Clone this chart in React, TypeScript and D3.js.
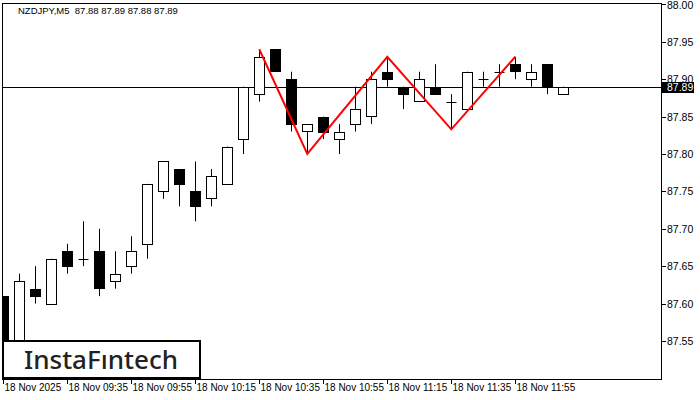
import React, { useEffect, useRef } from "react";
import * as d3 from "d3";

// NZDJPY M5 candles
const opens = [87.61, 87.5, 87.62, 87.6, 87.67, 87.66, 87.67, 87.63, 87.65, 87.68, 87.75, 87.78, 87.75, 87.74, 87.76, 87.82, 87.88, 87.94, 87.9, 87.83, 87.85, 87.82, 87.84, 87.85, 87.91, 87.89, 87.87, 87.89, 87.87, 87.86, 87.9, 87.91, 87.92, 87.9, 87.92, 87.88];
const highs = [87.61, 87.64, 87.65, 87.66, 87.68, 87.71, 87.7, 87.67, 87.69, 87.76, 87.79, 87.78, 87.79, 87.78, 87.81, 87.89, 87.94, 87.94, 87.91, 87.84, 87.85, 87.84, 87.89, 87.91, 87.93, 87.89, 87.91, 87.92, 87.88, 87.91, 87.91, 87.92, 87.93, 87.92, 87.92, 87.89];
const lows = [87.45, 87.49, 87.6, 87.6, 87.64, 87.65, 87.61, 87.62, 87.64, 87.66, 87.74, 87.73, 87.71, 87.73, 87.76, 87.8, 87.87, 87.91, 87.83, 87.8, 87.82, 87.8, 87.83, 87.84, 87.89, 87.86, 87.87, 87.88, 87.833, 87.86, 87.89, 87.89, 87.9, 87.89, 87.88, 87.88];
const closes = [87.48, 87.63, 87.61, 87.66, 87.65, 87.66, 87.62, 87.64, 87.67, 87.76, 87.79, 87.76, 87.73, 87.77, 87.81, 87.89, 87.93, 87.91, 87.84, 87.84, 87.83, 87.83, 87.86, 87.9, 87.9, 87.88, 87.9, 87.88, 87.87, 87.91, 87.9, 87.91, 87.91, 87.91, 87.89, 87.89];

// triple top pattern
const patternBars = [16, 19, 24, 28, 32];
const patternPrices = [87.94, 87.8, 87.93, 87.833, 87.93];

const priceTicks = [87.55, 87.6, 87.65, 87.7, 87.75, 87.8, 87.85, 87.9, 87.95, 88.0];
const timeTickBars = [0, 4, 8, 12, 16, 20, 24, 28, 32];
const timeTickLabels = ["18 Nov 2025", "18 Nov 09:35", "18 Nov 09:55", "18 Nov 10:15", "18 Nov 10:35", "18 Nov 10:55", "18 Nov 11:15", "18 Nov 11:35", "18 Nov 11:55"];

const lastPrice = 87.89;
const title = "NZDJPY,M5  87.88 87.89 87.88 87.89";

export default function App() {
  const svgRef = useRef<SVGSVGElement>(null);
  const width = 700;
  const height = 400;
  const left = 2;
  const right = 661;
  const top = 3;
  const bottom = 379;
  const font = "'Liberation Sans', Arial, sans-serif";

  useEffect(() => {
    const svg = d3.select(svgRef.current);
    svg.selectAll("*").remove();

    const x = d3.scaleLinear().domain([0, 35]).range([3.3, 563.3]);
    const y = d3.scaleLinear().domain([87.5, 88]).range([378.4, 4.4]);

    svg.append("rect").attr("width", width).attr("height", height).attr("fill", "#fff");

    const plot = svg.append("g");
    plot
      .append("defs")
      .append("clipPath")
      .attr("id", "plotclip")
      .append("rect")
      .attr("x", left)
      .attr("y", top)
      .attr("width", right - left)
      .attr("height", bottom - top);

    const g = plot.append("g").attr("clip-path", "url(#plotclip)");

    // current price line
    g.append("line")
      .attr("x1", left)
      .attr("x2", right)
      .attr("y1", Math.round(y(lastPrice)) + 0.5)
      .attr("y2", Math.round(y(lastPrice)) + 0.5)
      .attr("stroke", "#000")
      .attr("stroke-width", 1);

    const idx = d3.range(opens.length);
    const px = (v: number) => Math.round(v) + 0.5;

    // wicks
    g.selectAll(".wick")
      .data(idx)
      .enter()
      .append("line")
      .attr("x1", (i) => px(x(i)))
      .attr("x2", (i) => px(x(i)))
      .attr("y1", (i) => y(highs[i]))
      .attr("y2", (i) => y(lows[i]))
      .attr("stroke", "#000")
      .attr("stroke-width", 1);

    // bodies
    g.selectAll(".body")
      .data(idx.filter((i) => opens[i] !== closes[i]))
      .enter()
      .append("rect")
      .attr("x", (i) => px(x(i)) - 5)
      .attr("width", 10)
      .attr("y", (i) => Math.round(y(Math.max(opens[i], closes[i]))) + 0.5)
      .attr("height", (i) => Math.max(1, Math.round(Math.abs(y(opens[i]) - y(closes[i])))))
      .attr("fill", (i) => (closes[i] > opens[i] ? "#fff" : "#000"))
      .attr("stroke", "#000")
      .attr("stroke-width", 1);

    // doji
    g.selectAll(".doji")
      .data(idx.filter((i) => opens[i] === closes[i]))
      .enter()
      .append("line")
      .attr("x1", (i) => px(x(i)) - 5)
      .attr("x2", (i) => px(x(i)) + 5)
      .attr("y1", (i) => px(y(opens[i])))
      .attr("y2", (i) => px(y(opens[i])))
      .attr("stroke", "#000")
      .attr("stroke-width", 1);

    // pattern
    const line = d3
      .line<number>()
      .x((d, k) => x(patternBars[k]))
      .y((d) => y(d));
    g.append("path")
      .attr("d", line(patternPrices))
      .attr("fill", "none")
      .attr("stroke", "#ff0000")
      .attr("stroke-width", 2);

    // frame
    svg
      .append("rect")
      .attr("x", left + 0.5)
      .attr("y", top + 0.5)
      .attr("width", right - left)
      .attr("height", bottom - top)
      .attr("fill", "none")
      .attr("stroke", "#000")
      .attr("stroke-width", 1);

    // price axis
    const yAxis = svg.append("g");
    priceTicks.forEach((p) => {
      const ty = px(y(p));
      yAxis
        .append("line")
        .attr("x1", right + 0.5)
        .attr("x2", right + 5)
        .attr("y1", ty)
        .attr("y2", ty)
        .attr("stroke", "#000");
      yAxis
        .append("text")
        .attr("x", right + 6)
        .attr("y", Math.max(ty, 5))
        .attr("dy", "0.36em")
        .attr("font-family", font)
        .attr("font-size", 10.5)
        .attr("fill", "#000")
        .text(p.toFixed(2));
    });

    // last price marker
    const ly = Math.round(y(lastPrice));
    yAxis
      .append("rect")
      .attr("x", right)
      .attr("y", ly - 5)
      .attr("width", 33)
      .attr("height", 11)
      .attr("fill", "#000");
    yAxis
      .append("text")
      .attr("x", right + 6)
      .attr("y", ly + 0.5)
      .attr("dy", "0.36em")
      .attr("font-family", font)
      .attr("font-size", 10.5)
      .attr("fill", "#fff")
      .text(lastPrice.toFixed(2));

    // time axis
    const xAxis = svg.append("g");
    timeTickBars.forEach((b, k) => {
      const tx = px(x(b));
      xAxis
        .append("line")
        .attr("x1", tx)
        .attr("x2", tx)
        .attr("y1", bottom + 0.5)
        .attr("y2", bottom + 5)
        .attr("stroke", "#000");
      xAxis
        .append("text")
        .attr("x", tx + 1)
        .attr("y", 391)
        .attr("font-family", font)
        .attr("font-size", 10)
        .attr("fill", "#000")
        .text(timeTickLabels[k]);
    });

    // title
    svg
      .append("text")
      .attr("x", 18)
      .attr("y", 14)
      .attr("font-family", font)
      .attr("font-size", 9.5)
      .attr("fill", "#000")
      .style("white-space", "pre")
      .text(title);

    // logo
    svg
      .append("rect")
      .attr("x", 3)
      .attr("y", 341)
      .attr("width", 197)
      .attr("height", 37)
      .attr("fill", "#fff")
      .attr("stroke", "#000")
      .attr("stroke-width", 2);
    svg
      .append("text")
      .attr("x", 101)
      .attr("y", 369)
      .attr("text-anchor", "middle")
      .attr("font-family", "'Noto Sans', 'Open Sans', sans-serif")
      .attr("font-size", 26)
      .attr("font-weight", 500)
      .attr("fill", "#222")
      .text("InstaF\u0131ntech");
  }, []);

  return (
    <svg
      ref={svgRef}
      width={width}
      height={height}
      style={{ position: "absolute", left: 0, top: 0 }}
    ></svg>
  );
}
